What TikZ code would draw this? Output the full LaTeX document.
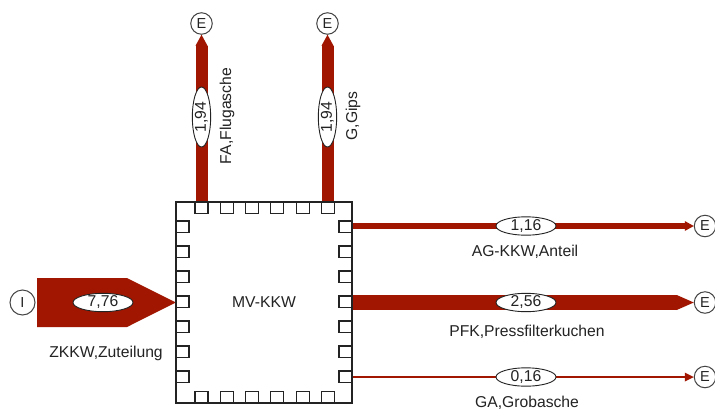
\documentclass[tikz,border=0pt]{standalone}
\usepackage{fontspec}
\setmainfont{Liberation Sans}
\usetikzlibrary{shapes.geometric,calc}
\definecolor{flowc}{RGB}{160,22,0}
\definecolor{ink}{RGB}{35,35,35}
\begin{document}
\begin{tikzpicture}[x=1pt,y=-1pt,
  term/.style={circle,draw=ink!85,line width=1pt,fill=white,minimum size=21.5pt,inner sep=0pt,font=\fontsize{14.5}{14.5}\selectfont,text=ink},
  val/.style={ellipse,draw=ink,line width=0.9pt,fill=white,minimum width=60pt,minimum height=17.5pt,inner sep=0pt,font=\fontsize{15.7}{15.7}\selectfont,text=ink},
  lbl/.style={font=\fontsize{15.7}{15.7}\selectfont,text=ink,inner sep=0pt},
  port/.style={draw=ink,line width=1.1pt,fill=white},
  boxline/.style={draw=ink,line width=1.5pt}
  ]
\useasboundingbox (0,0) rectangle (715,413);
\fill[white] (0,0) rectangle (715,413);
% process box (outline drawn later)
\node[minimum width=176pt,minimum height=201pt,inner sep=0pt] (kkw) at (264,302.5) {};
% terminals
\node[term,minimum size=25pt] (i) at (22.5,302.5) {I};
\node[term] (eF) at (201.5,23.5) {E};
\node[term] (eG) at (327.5,23.5) {E};
\node[term] (eA) at (705,226) {E};
\node[term] (eB) at (705,302.5) {E};
\node[term] (eC) at (705,377) {E};
% input flow
\coordinate (inS) at ($(i.east)+(1.5,0)$);
\fill[flowc] ($(inS)+(0,-24.5)$) -- ($(inS)+(90,-24.5)$) -- (kkw.west) -- ($(inS)+(90,24.5)$) -- ($(inS)+(0,24.5)$) -- cycle;
% upward flows
\coordinate (oF) at (kkw.north -| eF);
\coordinate (oG) at (kkw.north -| eG);
\draw[flowc,line width=12pt] (oF) -- ($(eF.south)+(0,11)$);
\fill[flowc] ($(eF.south)+(-6,11)$) -- (eF.south) -- ($(eF.south)+(6,11)$) -- cycle;
\draw[flowc,line width=12pt] (oG) -- ($(eG.south)+(0,11)$);
\fill[flowc] ($(eG.south)+(-6,11)$) -- (eG.south) -- ($(eG.south)+(6,11)$) -- cycle;
% output flows
\coordinate (oA) at (kkw.east |- eA);
\coordinate (oB) at (kkw.east |- eB);
\coordinate (oC) at (kkw.east |- eC);
\draw[flowc,line width=6.5pt] (oA) -- ($(eA.west)+(-9,0)$);
\fill[flowc] ($(eA.west)+(-9,-5)$) -- (eA.west) -- ($(eA.west)+(-9,5)$) -- cycle;
\draw[flowc,line width=15pt] (oB) -- ($(eB.west)+(-17,0)$);
\fill[flowc] ($(eB.west)+(-17,-7.5)$) -- (eB.west) -- ($(eB.west)+(-17,7.5)$) -- cycle;
\draw[flowc,line width=1.5pt] (oC) -- ($(eC.west)+(-9,0)$);
\fill[flowc] ($(eC.west)+(-9,-4.5)$) -- (eC.west) -- ($(eC.west)+(-9,4.5)$) -- cycle;
% value ellipses
\node[val] (vI) at (103,302.5) {7,76};
\node[val,rotate=90] (vF) at (201.5,117) {1,94};
\node[val,rotate=90] (vG) at (327.5,117) {1,94};
\node[val] (vA) at (526,226) {1,16};
\node[val] (vB) at (526,302.5) {2,56};
\node[val] (vC) at (526,377) {0,16};
% labels
\node[lbl,rotate=90] (lF) at (227,116) {FA,Flugasche};
\node[lbl,rotate=90] (lG) at (353,116) {G,Gips};
\node[lbl] (lA) at (525,252) {AG-KKW,Anteil};
\node[lbl] (lB) at (527,332) {PFK,Pressfilterkuchen};
\node[lbl] (lC) at (527,403) {GA,Grobasche};
\node[lbl] (lI) at (106,353) {ZKKW,Zuteilung};
% box outline and ports
\draw[boxline] (kkw.north west) rectangle (kkw.south east);
\foreach \k in {0,...,5} {
  \pgfmathsetmacro\cx{201.5+25.3*\k}
  \draw[port] (\cx-6.5,202) rectangle (\cx+6.5,213.5);
  \draw[port] (\cx-6.5,391.5) rectangle (\cx+6.5,403);
}
\foreach \k in {0,...,6} {
  \pgfmathsetmacro\cy{226.7+25*\k}
  \draw[port] (176,\cy-5.75) rectangle (189,\cy+5.75);
  \draw[port] (339,\cy-5.75) rectangle (352,\cy+5.75);
}
\node[lbl] (lK) at (kkw.center) {MV-KKW};
\end{tikzpicture}
\end{document}
